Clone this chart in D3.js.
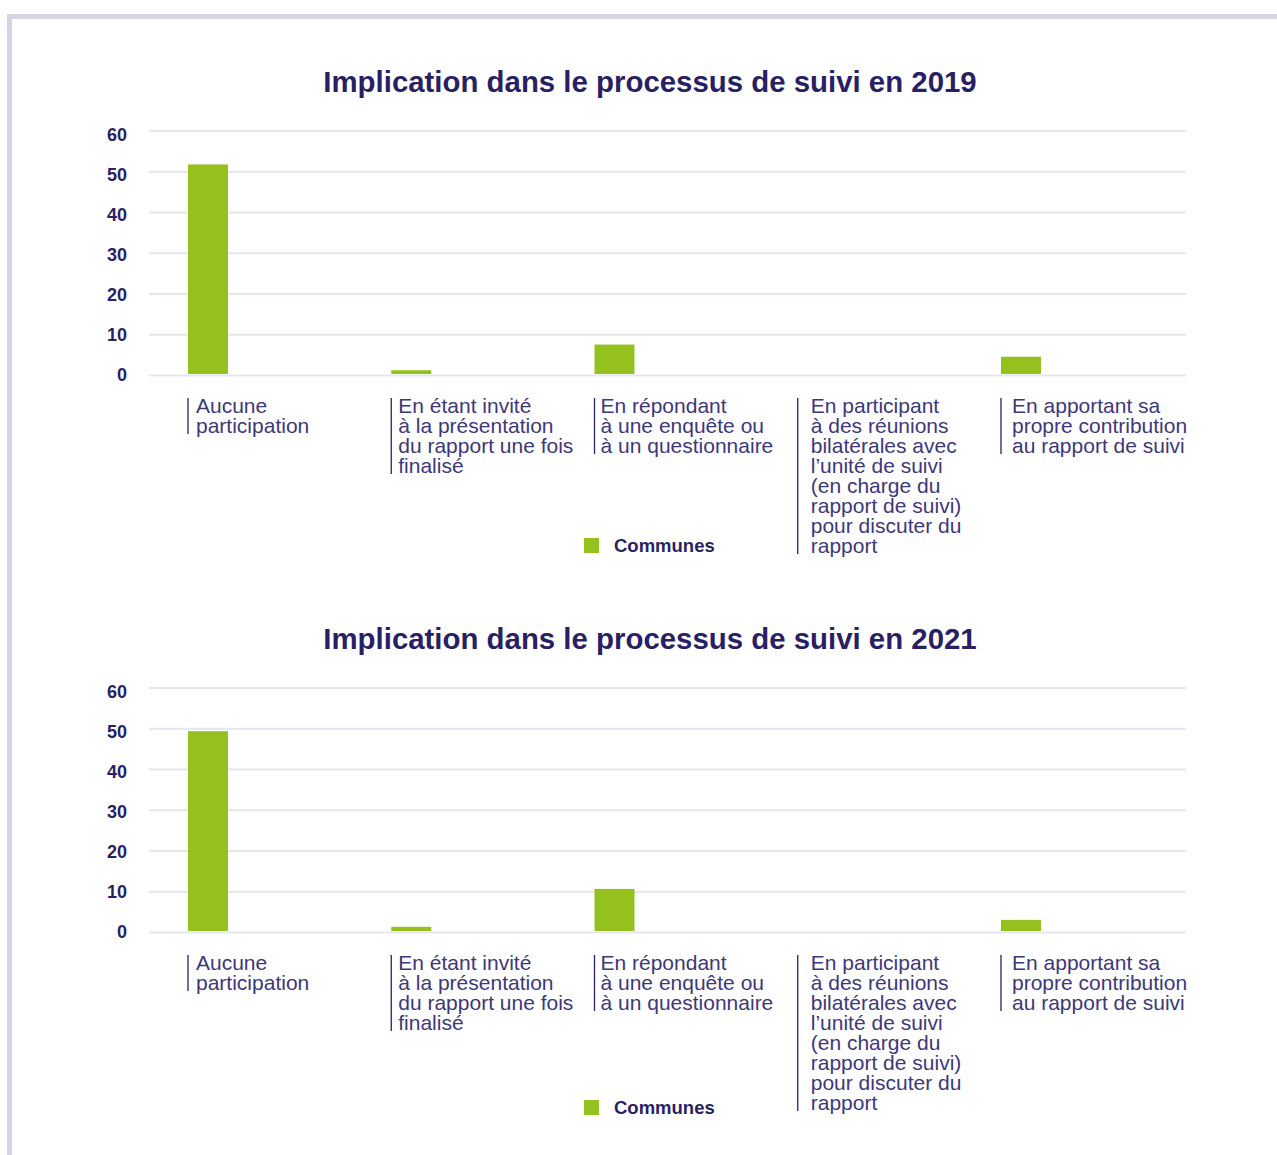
<!DOCTYPE html>
<html>
<head>
<meta charset="utf-8">
<script src="https://cdn.jsdelivr.net/npm/d3@7"></script>
<style>
    body { margin: 0; background: #fff; }
    svg { display: block; }
</style>
</head>
<body>
<div id="chart"></div>
<script>

// categories (line breaks as in the original labels)
const categories = [
    ['Aucune', 'participation'],
    ['En étant invité', 'à la présentation', 'du rapport une fois', 'finalisé'],
    ['En répondant', 'à une enquête ou', 'à un questionnaire'],
    ['En participant', 'à des réunions', 'bilatérales avec', 'l\u2019unité de suivi', '(en charge du', 'rapport de suivi)', 'pour discuter du', 'rapport'],
    ['En apportant sa', 'propre contribution', 'au rapport de suivi']
]

const values2019 = [51.8, 1.3, 7.6, 0, 4.6]
const values2021 = [49.4, 1.4, 10.7, 0, 3.1]

const yTicks = [0, 10, 20, 30, 40, 50, 60]
const seriesName = 'Communes'

const charts = [
    { title: 'Implication dans le processus de suivi en 2019', values: values2019, top: 0, legendTop: 538 },
    { title: 'Implication dans le processus de suivi en 2021', values: values2021, top: 557, legendTop: 543 }
]

// gap between the marker line and the label text, per category
const labelIndent = [8, 7, 6, 13, 11]

const fullWidth = 1277
const fullHeight = 1155
const navy = '#2a1f63'
const green = '#95c11f'
const font = 'Liberation Sans, Arial, sans-serif'

const svg = d3.select('#chart')
    .append('svg')
    .attr('width', fullWidth)
    .attr('height', fullHeight)

// frame (top + left borders only)
svg.append('path')
    .attr('d', `M9.5,${fullHeight} V16.5 H${fullWidth}`)
    .attr('fill', 'none')
    .attr('stroke', '#d6d4e7')
    .attr('stroke-width', 5)

function drawChart(chart) {

    let g = svg.append('g').attr('transform', 'translate(0,' + chart.top + ')')

    let x = d3.scaleBand()
        .domain(d3.range(categories.length))
        .range([188, 188 + 203.25 * categories.length])

    let y = d3.scaleLinear()
        .domain([0, 60])
        .range([375.5, 131])

    // tick labels sit on a slightly tighter spacing than the grid
    let yLabel = d3.scaleLinear()
        .domain([0, 60])
        .range([381, 141])

    // title
    g.append('text')
        .attr('x', 650)
        .attr('y', 92)
        .attr('text-anchor', 'middle')
        .attr('font-family', font)
        .attr('font-weight', 'bold')
        .attr('font-size', 29.4)
        .attr('fill', navy)
        .text(chart.title)

    // grid
    g.append('g')
        .selectAll('line')
        .data(yTicks)
        .enter()
        .append('line')
        .attr('x1', 149)
        .attr('x2', 1186)
        .attr('y1', d => y(d))
        .attr('y2', d => y(d))
        .attr('stroke', '#e6e5f0')
        .attr('stroke-width', 2)

    // y labels
    g.append('g')
        .selectAll('text')
        .data(yTicks)
        .enter()
        .append('text')
        .attr('x', 127)
        .attr('y', d => yLabel(d))
        .attr('text-anchor', 'end')
        .attr('font-family', font)
        .attr('font-weight', 'bold')
        .attr('font-size', 18)
        .attr('fill', navy)
        .text(d => d)

    // bars
    g.append('g')
        .selectAll('rect')
        .data(chart.values)
        .enter()
        .append('rect')
        .attr('x', (d, i) => x(i))
        .attr('y', d => y(d))
        .attr('width', 40)
        .attr('height', d => Math.max(0, y(0) - 1.5 - y(d)))
        .attr('fill', green)

    // category labels with a line on the left
    let labels = g.append('g')
        .selectAll('g')
        .data(categories)
        .enter()
        .append('g')
        .attr('transform', (d, i) => 'translate(' + x(i) + ',0)')

    labels.append('line')
        .attr('x1', 0)
        .attr('x2', 0)
        .attr('y1', 398)
        .attr('y2', d => 398 + 20 * d.length - 4)
        .attr('stroke', navy)
        .attr('stroke-width', 1.3)

    labels.append('text')
        .attr('font-family', font)
        .attr('font-size', 21)
        .attr('fill', '#3e3879')
        .each(function (d, i) {
            d3.select(this)
                .selectAll('tspan')
                .data(d)
                .enter()
                .append('tspan')
                .attr('x', labelIndent[i])
                .attr('y', (s, k) => 413 + k * 20)
                .text(s => s)
        })

    // legend
    g.append('rect')
        .attr('x', 584)
        .attr('y', chart.legendTop)
        .attr('width', 15)
        .attr('height', 15)
        .attr('fill', green)

    g.append('text')
        .attr('x', 614)
        .attr('y', chart.legendTop + 14)
        .attr('font-family', font)
        .attr('font-weight', 'bold')
        .attr('font-size', 18.5)
        .attr('fill', navy)
        .text(seriesName)
}

charts.forEach(drawChart)

</script>
</body>
</html>
